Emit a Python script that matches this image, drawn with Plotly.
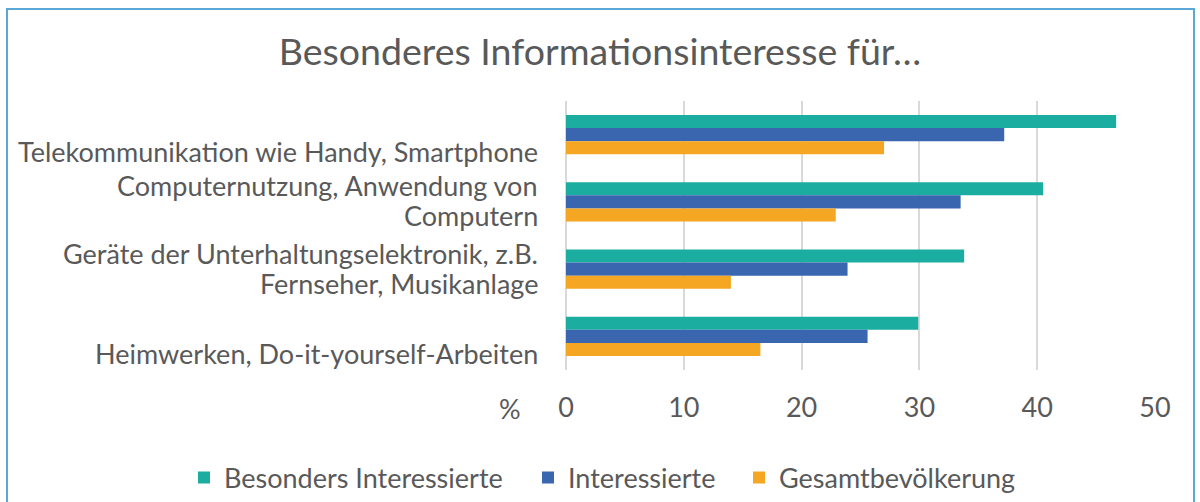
import plotly.graph_objects as go

categories = [
    "Telekommunikation wie Handy, Smartphone",
    "Computernutzung, Anwendung von<br>Computern",
    "Geräte der Unterhaltungselektronik, z.B.<br>Fernseher, Musikanlage",
    "Heimwerken, Do-it-yourself-Arbeiten",
]
series_names = ["Besonders Interessierte", "Interessierte", "Gesamtbevölkerung"]
besonders = [46.7, 40.5, 33.8, 29.9]
interessierte = [37.2, 33.5, 23.9, 25.6]
gesamt = [27.0, 22.9, 14.0, 16.5]
x_ticks = [0, 10, 20, 30, 40, 50]
colors = ["#1AADA0", "#3A66AF", "#F5A623"]

FONT = "Lato"
GREY = "#595959"
FS = 27
W, H = 1200, 502
L, R, T, B = 566, 45, 101, 132
pw = W - L - R
ph = H - T - B

legend_ids = ["legend", "legend2", "legend3"]
legend_px = [184, 528, 739]

fig = go.Figure()
for name, vals, col, lid in zip(series_names, [besonders, interessierte, gesamt], colors, legend_ids):
    fig.add_trace(go.Bar(
        y=list(range(len(categories))), x=vals, name=name, orientation="h",
        marker=dict(color=col, line=dict(width=0)), legend=lid,
    ))

# category labels as annotations, one per line (Excel-like tight line spacing)
LINE = 30
for i, c in enumerate(categories):
    lines = c.split("<br>")
    if len(lines) == 1:
        shifts = [-17]
    else:
        shifts = [LINE / 2 + 1, -LINE / 2 + 1]
    for ln, sh in zip(lines, shifts):
        fig.add_annotation(
            x=0, xref="paper", y=i, yref="y", text=ln, showarrow=False,
            xanchor="right", yanchor="middle", align="right",
            xshift=-26, yshift=sh,
            font=dict(family=FONT, size=FS, color=GREY),
        )

fig.add_annotation(
    x=0, xref="paper", y=0, yref="paper", text="%", showarrow=False,
    xanchor="center", yanchor="middle", xshift=-56, yshift=-38,
    font=dict(family=FONT, size=FS, color=GREY),
)

fig.add_shape(
    type="rect", xref="paper", yref="paper",
    x0=(7 - L) / pw, x1=(1194 - L) / pw,
    y0=(H - B - 515) / ph, y1=(H - B - 9) / ph,
    line=dict(color="#5AA7D8", width=2), fillcolor="rgba(0,0,0,0)", layer="below",
)

legend_common = dict(orientation="h", xanchor="left", yref="paper",
                     y=(H - B - 478) / ph, yanchor="middle",
                     font=dict(family=FONT, size=FS, color=GREY), itemwidth=30,
                     bgcolor="rgba(0,0,0,0)")
legends = {}
for lid, px in zip(legend_ids, legend_px):
    legends[lid] = dict(legend_common, xref="paper", x=(px - L) / pw)

fig.update_layout(
    width=W, height=H,
    margin=dict(l=L, r=R, t=T, b=B, autoexpand=False),
    paper_bgcolor="white", plot_bgcolor="white",
    barmode="group", bargap=0.42, bargroupgap=0,
    title=dict(text="Besonderes Informationsinteresse für…", x=0.5, xref="container",
               y=1 - 52 / H, yanchor="middle",
               font=dict(family=FONT, size=37.5, color=GREY)),
    font=dict(family=FONT, color=GREY),
    xaxis=dict(range=[0, 50], tickvals=x_ticks, showgrid=True, gridcolor="#D9D9D9",
               gridwidth=1.5, zeroline=True, zerolinecolor="#D9D9D9", zerolinewidth=1.5,
               showline=False, ticks="outside", ticklen=14, tickcolor="rgba(0,0,0,0)",
               tickfont=dict(family=FONT, size=FS, color=GREY), fixedrange=True),
    yaxis=dict(range=[3.5, -0.5], showticklabels=False, showgrid=False, zeroline=False,
               showline=False, ticks="", fixedrange=True),
    showlegend=True,
    **legends,
)

fig.write_html("out.html", config={"displayModeBar": False},
               post_script="document.body.style.margin='0';document.body.style.overflow='hidden';")
